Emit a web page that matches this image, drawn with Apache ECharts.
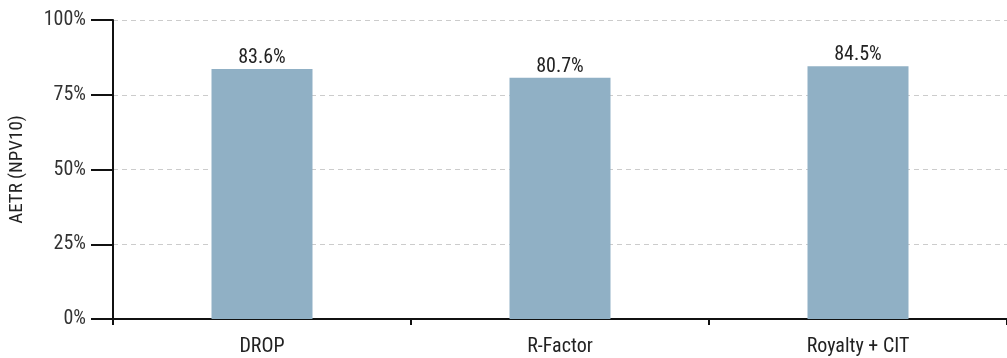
<!DOCTYPE html>
<html>
<head>
<meta charset="utf-8">
<script src="https://cdn.jsdelivr.net/npm/echarts@6/dist/echarts.min.js"></script>
<style>
  html, body { margin: 0; padding: 0; background: #fff; }
  #chart { width: 1007px; height: 358px; }
</style>
</head>
<body>
<div id="chart"></div>
<script>
const categories = ['DROP', 'R-Factor', 'Royalty + CIT'];
const aetrValues = [83.6, 80.7, 84.5];
const yTicks = [0, 25, 50, 75, 100];

const fontFamily = '"Roboto Condensed", "Liberation Sans Narrow", sans-serif';

const chart = echarts.init(document.getElementById('chart'));
chart.setOption({
  animation: false,
  textStyle: { fontFamily: fontFamily },
  grid: { left: 111, right: 0, top: 20, bottom: 39, containLabel: false },
  xAxis: {
    type: 'category',
    data: categories,
    boundaryGap: true,
    axisLine: { lineStyle: { color: '#111', width: 2 } },
    axisTick: { show: true, alignWithLabel: false, length: 6, lineStyle: { color: '#111', width: 2 } },
    axisLabel: { color: '#222', fontSize: 20, margin: 18, fontFamily: fontFamily }
  },
  yAxis: {
    type: 'value',
    min: yTicks[0],
    max: yTicks[yTicks.length - 1],
    interval: 25,
    name: 'AETR (NPV10)',
    nameLocation: 'middle',
    nameGap: 86,
    nameTextStyle: { color: '#222', fontSize: 19, fontFamily: fontFamily },
    axisLine: { show: true, lineStyle: { color: '#111', width: 2 } },
    axisTick: { show: true, length: 22, lineStyle: { color: '#111', width: 2 } },
    axisLabel: { color: '#333', fontSize: 20, margin: 27, formatter: '{value}%', fontFamily: fontFamily },
    splitLine: { show: true, lineStyle: { color: '#ccc', type: [5, 4], width: 1 } }
  },
  series: [{
    type: 'bar',
    data: aetrValues,
    barWidth: 101,
    itemStyle: { color: '#90b0c5' },
    label: {
      show: true,
      position: 'top',
      distance: 1,
      color: '#222',
      fontSize: 20,
      fontFamily: fontFamily,
      formatter: p => p.value.toFixed(1) + '%'
    }
  }]
});
</script>
</body>
</html>
